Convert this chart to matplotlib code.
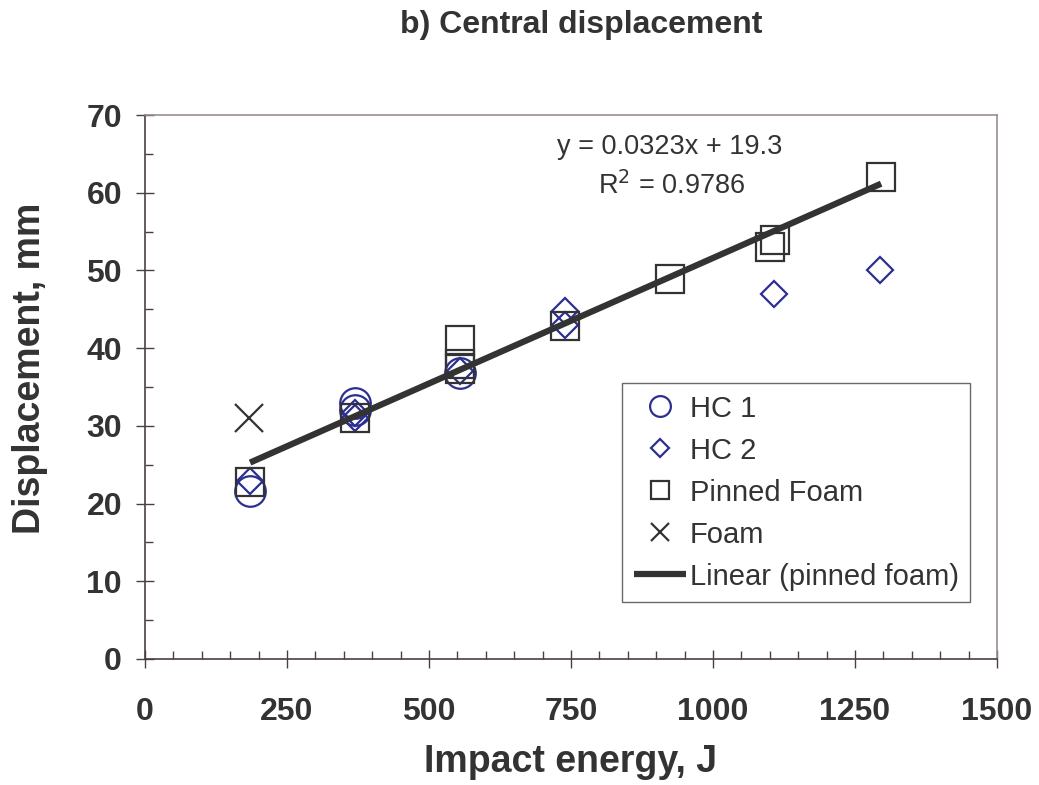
import matplotlib
matplotlib.use("Agg")
import matplotlib.pyplot as plt
import numpy as np
from matplotlib.ticker import MultipleLocator

plt.rcParams['font.family'] = ['Liberation Sans', 'DejaVu Sans']

# ---- data ----
hc1_x = [185, 370, 370, 555]
hc1_y = [21.6, 33.0, 32.0, 36.8]

hc2_x = [185, 370, 370, 555, 740, 740, 1107, 1294]
hc2_y = [22.9, 31.0, 31.6, 37.0, 44.8, 43.0, 47.0, 50.0]

pinned_x = [185, 370, 555, 555, 555, 740, 924, 1100, 1109, 1296]
pinned_y = [22.8, 31.0, 41.0, 38.0, 37.3, 42.9, 48.9, 53.0, 53.9, 62.0]

foam_x = [183]
foam_y = [31.0]

fit_slope = 0.0323
fit_intercept = 19.3
fit_range = [185, 1296]

x_ticks = [0, 250, 500, 750, 1000, 1250, 1500]
y_ticks = [0, 10, 20, 30, 40, 50, 60, 70]

# ---- figure ----
W, H = 1039, 785
fig = plt.figure(figsize=(W / 100, H / 100), dpi=100)
ax = fig.add_axes([145 / W, 1 - 659 / H, (997 - 145) / W, (659 - 115) / H])

txt = '#333333'
navy = '#2b2f8f'
dark = '#333333'

ax.plot(hc1_x, hc1_y, linestyle='none', marker='o', ms=22, mfc='none', mec=navy, mew=1.6, label='HC 1')
ax.plot(hc2_x, hc2_y, linestyle='none', marker='D', ms=13.5, mfc='none', mec=navy, mew=1.6, label='HC 2')
ax.plot(pinned_x, pinned_y, linestyle='none', marker='s', ms=20, mfc='none', mec=dark, mew=1.6, label='Pinned Foam')
ax.plot(foam_x, foam_y, linestyle='none', marker='x', ms=20, mec=dark, mew=1.6, label='Foam')
fx = np.array(fit_range, dtype=float)
ax.plot(fx, fit_slope * fx + fit_intercept, color=dark, lw=4.5, solid_capstyle='butt',
        label='Linear (pinned foam)')

ax.set_xlim(0, 1500)
ax.set_ylim(0, 70)
ax.set_xticks(x_ticks)
ax.set_yticks(y_ticks)
ax.xaxis.set_minor_locator(MultipleLocator(50))
ax.yaxis.set_minor_locator(MultipleLocator(5))

ax.tick_params(axis='both', which='major', direction='inout', length=13, width=1.0,
               colors='#4a4040', labelcolor=txt, labelsize=23)
ax.tick_params(axis='both', which='minor', direction='in', length=6, width=1.0, colors='#4a4040')
ax.tick_params(axis='x', which='major', pad=21)
ax.tick_params(axis='y', which='major', pad=10)
for lab in ax.get_xticklabels() + ax.get_yticklabels():
    lab.set_fontweight('bold')

for s in ['left', 'bottom']:
    ax.spines[s].set_color('#4a4040')
    ax.spines[s].set_linewidth(1.2)
for s in ['top', 'right']:
    ax.spines[s].set_color('#9a8f8f')
    ax.spines[s].set_linewidth(1.2)

ax.set_xlabel('Impact energy, J', fontsize=27, fontweight='bold', color=txt, va='center')
ax.xaxis.set_label_coords((571 - 145) / 852, (659 - 762) / 544)
ax.set_ylabel('Displacement, mm', fontsize=27, fontweight='bold', color=txt, va='center')
ax.yaxis.set_label_coords((30 - 145) / 852, (659 - 368) / 544)

fig.text(581 / W, 1 - 25 / H, 'b) Central displacement', fontsize=23, fontweight='bold',
         color=txt, ha='center', va='center')

ax.text((670 - 145) / 852, (659 - 147) / 544, 'y = 0.0323x + 19.3', transform=ax.transAxes,
        fontsize=19.5, color=txt, ha='center', va='center')
ax.text((672 - 145) / 852, (659 - 186) / 544, r'R$^2$ = 0.9786', transform=ax.transAxes,
        fontsize=19.5, color=txt, ha='center', va='center')

leg = ax.legend(loc='upper left', bbox_to_anchor=((622 - 145) / 852, (659 - 383) / 544),
                fontsize=21, frameon=True, fancybox=False, shadow=False, markerscale=0.68,
                handlelength=1.8, handletextpad=0.12, labelspacing=0.48, borderpad=0.4,
                borderaxespad=0.0)
leg.get_frame().set_edgecolor('#444444')
leg.get_frame().set_linewidth(1.0)
for t in leg.get_texts():
    t.set_color(txt)

fig.savefig('out.png', dpi=100)
